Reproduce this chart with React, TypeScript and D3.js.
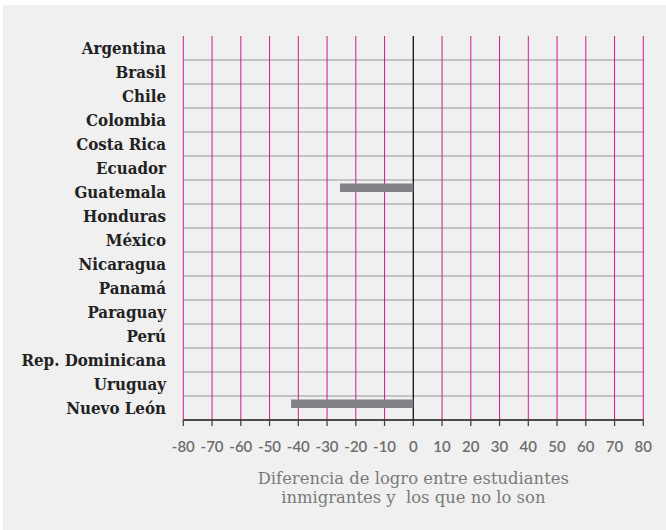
import React from "react";
import * as d3 from "d3";

const countries = [
  "Argentina", "Brasil", "Chile", "Colombia", "Costa Rica", "Ecuador", "Guatemala",
  "Honduras", "México", "Nicaragua", "Panamá", "Paraguay", "Perú", "Rep. Dominicana",
  "Uruguay", "Nuevo León",
];
const values: (number | null)[] = [
  null, null, null, null, null, null, -25.5, null, null, null, null, null, null, null, null, -42.5,
];
const ticks = [-80, -70, -60, -50, -40, -30, -20, -10, 0, 10, 20, 30, 40, 50, 60, 70, 80];
const titleLines = ["Diferencia de logro entre estudiantes", "inmigrantes y  los que no lo son"];

const W = 666, H = 530;

export default function App() {
  const x = d3.scaleLinear().domain([-80, 80]).range([183.3, 643.3]);
  const y = d3.scaleBand<string>().domain(countries).range([36, 420]).paddingInner(0).paddingOuter(0);
  const bw = y.bandwidth();
  return (
    <div style={{ position: "absolute", left: 0, top: 0, width: W, height: H }}>
      <svg width={W} height={H} style={{ display: "block" }}>
        <rect x={3} y={5} width={W - 3} height={H - 5} fill="#f0f0f0" />
        {countries.map((c) => (
          <line key={"h" + c} x1={x(-80)} x2={x(80)} y1={(y(c) as number) + bw} y2={(y(c) as number) + bw}
            stroke="#b4b4b4" strokeWidth={1.5} />
        ))}
        {ticks.map((t) => (
          <line key={"v" + t} x1={x(t)} x2={x(t)} y1={36} y2={420}
            stroke={t === 0 ? "#111" : "#d6198c"} strokeWidth={t === 0 ? 1.3 : 1} />
        ))}
        {countries.map((c, i) => {
          const v = values[i];
          if (v == null) return null;
          return (
            <rect key={"b" + c} x={x(Math.min(0, v))} width={Math.abs(x(v) - x(0))}
              y={(y(c) as number) + 3.5} height={8.5} fill="#808285" />
          );
        })}
        <line x1={x(-80)} x2={x(80)} y1={420} y2={420} stroke="#222" strokeWidth={1.5} />
        {ticks.map((t) => (
          <line key={"t" + t} x1={x(t)} x2={x(t)} y1={420} y2={426} stroke="#444" strokeWidth={1.3} />
        ))}
        {ticks.map((t) => (
          <text key={"l" + t} x={x(t)} y={452} textAnchor="middle" fontFamily="Lato" fontWeight={600}
            fontSize={15} fill="#6d6d6d">{t}</text>
        ))}
        {countries.map((c) => (
          <text key={"c" + c} x={166} y={(y(c) as number) + bw / 2 + 6} textAnchor="end"
            fontFamily="'DejaVu Serif'" fontWeight="bold" fontSize={16.8} fill="#222"
            style={{ fontStretch: "condensed" }}>{c}</text>
        ))}
        {titleLines.map((s, i) => (
          <text key={"tt" + i} x={x(0)} y={484 + i * 19} textAnchor="middle" fontFamily="'DejaVu Serif'"
            fontSize={16.4} fill="#7a7a7a" style={{ whiteSpace: "pre" }}>{s}</text>
        ))}
      </svg>
    </div>
  );
}
